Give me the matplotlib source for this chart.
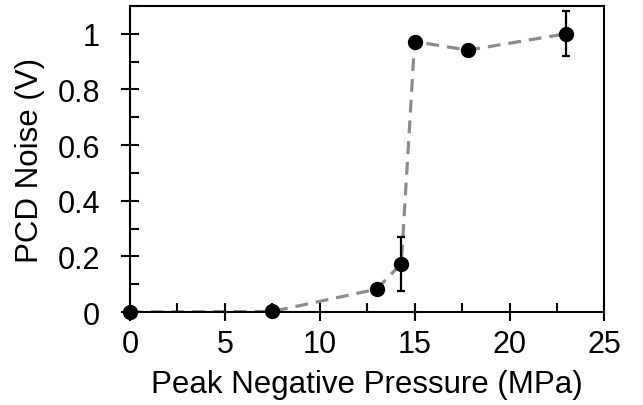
import matplotlib.pyplot as plt
from matplotlib.ticker import MultipleLocator

# PCD noise vs. peak negative pressure
pressure = [0, 7.5, 13.0, 14.3, 15.0, 17.8, 23.0]
noise = [0.0, 0.002, 0.082, 0.174, 0.972, 0.941, 1.0]
noise_err = [0, 0, 0, 0.097, 0, 0, 0.081]

plt.rcParams['font.family'] = ['Liberation Sans', 'DejaVu Sans']

fig, ax = plt.subplots(figsize=(6.43, 4.06), dpi=100)
fig.subplots_adjust(left=0.202, right=0.94, top=0.983, bottom=0.229)

ax.plot(pressure, noise, linestyle='--', color='#8c8c8c', linewidth=2.3,
        dashes=(4, 2.5), zorder=1)
ax.errorbar(pressure, noise, yerr=noise_err, fmt='o', color='black',
            markersize=10, elinewidth=1.6, capsize=3, capthick=1.6, zorder=2,
            clip_on=False)

ax.set_xlim(0, 25)
ax.set_ylim(0, 1.1)
ax.xaxis.set_major_locator(MultipleLocator(5))
ax.xaxis.set_minor_locator(MultipleLocator(2.5))
ax.yaxis.set_minor_locator(MultipleLocator(0.1))
ax.set_yticks([0, 0.2, 0.4, 0.6, 0.8, 1.0])
ax.set_yticklabels(['0', '0.2', '0.4', '0.6', '0.8', '1'])

ax.tick_params(which='major', direction='inout', length=13, width=1.5,
               labelsize=22)
ax.tick_params(axis='x', which='major', pad=6)
ax.tick_params(axis='y', which='major', pad=15)
ax.tick_params(which='minor', direction='in', length=6.5, width=1.5)
ax.tick_params(top=False, right=False, which='both')
for s in ax.spines.values():
    s.set_linewidth(1.5)

ax.set_xlabel('Peak Negative Pressure (MPa)', fontsize=22.5, labelpad=7)
ax.set_ylabel('PCD Noise (V)', fontsize=22.5, labelpad=9)

fig.savefig('out.png', dpi=100)
